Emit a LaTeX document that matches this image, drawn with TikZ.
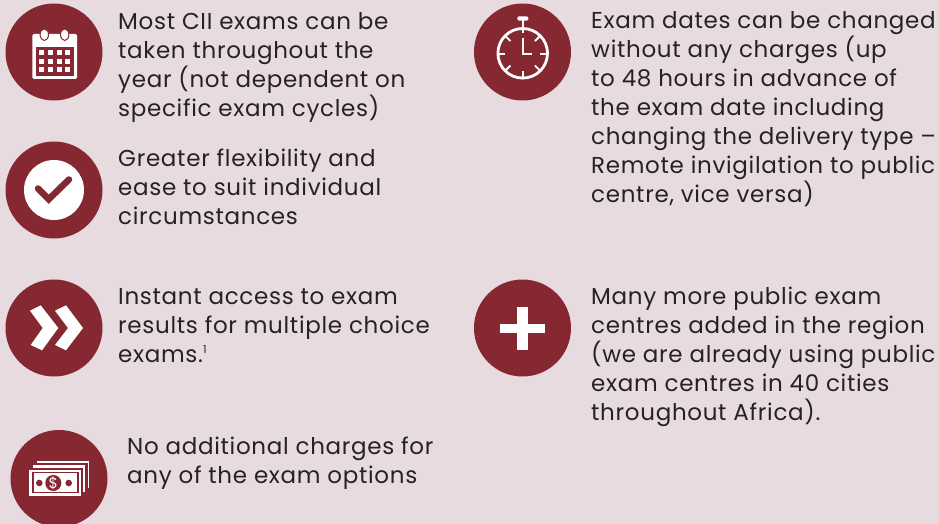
\documentclass[tikz,border=0pt]{standalone}
\usepackage{fontspec}
\setmainfont{Poppins}[LetterSpace=3.0]
\definecolor{bgc}{HTML}{E8DBE0}
\definecolor{mar}{HTML}{852832}
\definecolor{txt}{HTML}{262223}
\tikzset{
  badge/.style={circle,fill=mar,draw=none,minimum size=97pt,inner sep=0pt},
  para/.style={anchor=north west,align=left,inner sep=0pt,text=txt,font=\fontsize{23}{29}\selectfont},
  wht/.style={fill=white,draw=none},
  marf/.style={fill=mar,draw=none}
}
\begin{document}
\begin{tikzpicture}[x=1pt,y=-1pt]
\useasboundingbox (0,0) rectangle (939,524);
\fill[bgc] (0,0) rectangle (939,524);
% badges
\node[badge] (b1) at (54,52) {};
\node[badge] (b2) at (54,190) {};
\node[badge] (b3) at (54,328) {};
\begin{scope}
\clip (0,0) rectangle (939,524);
\node[badge] (b4) at (59,478.5) {};
\end{scope}
\node[badge] (b5) at (522.5,52) {};
\node[badge] (b6) at (522.5,328) {};
% calendar
\fill[wht,rounded corners=1.5pt] (32.3,34) rectangle (77,79);
\fill[marf] (35.7,46.7) rectangle (73.7,76);
\foreach \cx in {39.3,48,56.7,65.3}{\foreach \cy in {50,58.7,67.3}{
  \fill[wht] (\cx,\cy) rectangle ++(5,5);}}
\foreach \cx in {44.3,64.7}{\filldraw[fill=white,draw=mar,line width=1pt] (\cx,34.7) ellipse [x radius=4.2,y radius=5.8];}
% check
\fill[wht] (b2) circle [radius=30];
\draw[mar,line width=6.5pt,line join=miter,line cap=round] (38,188.5) -- (48.7,199.3) -- (69,179.5);
% arrows
\fill[wht] (30,310.7) -- (40.7,305.3) -- (58.3,328) -- (42,350.3) -- (30.7,345) -- (42.7,328) -- cycle;
\fill[wht] (55,310.7) -- (66,305.3) -- (83,328) -- (66,350.3) -- (55,345) -- (68,328) -- cycle;
% money
\fill[wht] (37.3,461) rectangle (89.3,488.3);
\fill[marf] (35,463) rectangle (87.5,490);
\fill[wht] (32.7,465.3) rectangle (84.7,492);
\fill[marf] (31,468) rectangle (82.7,498);
\fill[wht] (29.3,469.7) rectangle (81.3,495.7);
\fill[marf] (32,472) rectangle (78.7,493.3);
\fill[wht] (34.3,473.3) rectangle (77.3,492.3);
\fill[marf] (39.3,483) circle [radius=3.3];
\fill[marf] (68.7,483) circle [radius=3.3];
\node[circle,fill=mar,minimum size=16pt,inner sep=0pt,text=white,font=\fontsize{15}{15}\selectfont] (dollar) at (53.3,483) {\$};
% stopwatch
\draw[white,line width=2.8pt] (522.7,53.3) circle [radius=24.8];
\fill[wht,rounded corners=1.5pt] (517.3,16.3) rectangle (528.3,20.7);
\draw[white,line width=2.2pt] (522.7,20) -- (522.7,33.3);
\draw[white,line width=1.8pt] (522.7,71) -- (522.7,78);
\draw[white,line width=1.8pt] (498.3,54) -- (505,54);
\draw[white,line width=1.8pt] (540,54) -- (547.7,54);
\foreach \a in {45,135,225,315}{
  \draw[white,line width=1.8pt] ([shift={(\a:17.3)}]522.7,53.3) -- ([shift={(\a:24)}]522.7,53.3);}
\draw[white,line width=2pt] (522.7,38.3) -- (522.7,54.3) -- (531.7,54.3);
% plus
\fill[wht] (500.3,323.7) rectangle (545,333.3);
\fill[wht] (517.3,307) rectangle (527.7,350);
% text
\node[para] (t1) at (118,12.5) {Most CII exams can be\\taken throughout the\\year (not dependent on\\specific exam cycles)};
\node[para] (t2) at (118,148.5) {Greater flexibility and\\ease to suit individual\\circumstances};
\node[para] (t3) at (118,288.5) {Instant access to exam\\results for multiple choice\\exams.\raisebox{0.75ex}{\fontsize{11}{11}\selectfont 1}};
\node[para] (t4) at (127,437) {No additional charges for\\any of the exam options};
\node[para] (t5) at (591,11.5) {Exam dates can be changed\\without any charges (up\\to 48 hours in advance of\\the exam date including\\changing the delivery type –\\Remote invigilation to public\\centre, vice versa)};
\node[para] (t6) at (591,286.5) {Many more public exam\\centres added in the region\\(we are already using public\\exam centres in 40 cities\\throughout Africa).};
\end{tikzpicture}
\end{document}
